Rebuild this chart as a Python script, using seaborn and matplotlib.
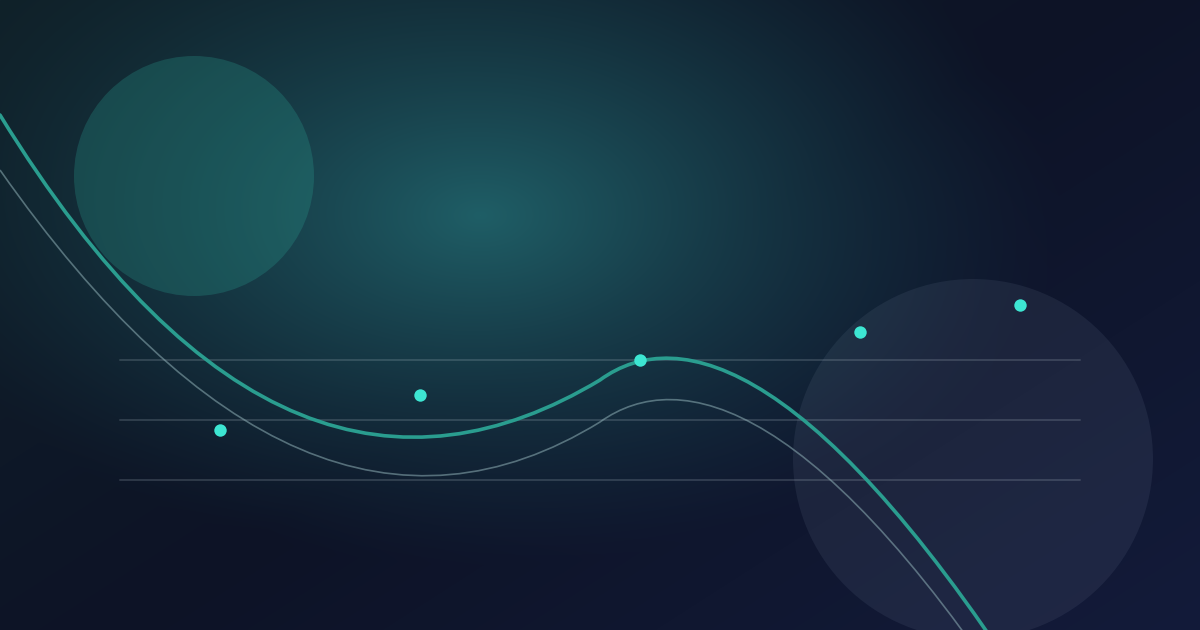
import numpy as np
import pandas as pd
import matplotlib
matplotlib.use("Agg")
import matplotlib.pyplot as plt
from matplotlib.path import Path
from matplotlib.patches import PathPatch, Circle
import seaborn as sns

# ---- data (canvas coordinates, y grows downward) ----
dot_x = [220, 420, 640, 860, 1020]
dot_y = [430, 395, 360, 332, 305]

grid_y = [360, 420, 480]
grid_x0 = 120
grid_x1 = 1080

# main trend curve: cubic bezier control points
main_x = [0, 200, 400, 600, 680, 820, 1045]
main_y = [115, 440, 500, 380, 322, 362, 720]

# secondary (grey) curve
sec_x = [0, 200, 400, 600, 680, 820, 1040]
sec_y = [170, 455, 545, 422, 365, 398, 745]

circle_a = (194, 176, 120)
circle_b = (973, 459, 180)

W, H = 1200, 630

sns.set_theme(style="white")
fig = plt.figure(figsize=(12, 6.3), dpi=100)
ax = fig.add_axes([0, 0, 1, 1])
ax.set_xlim(0, W)
ax.set_ylim(H, 0)
ax.axis("off")

# ---- background gradient ----
yy, xx = np.mgrid[0:H, 0:W].astype(float)
tl = np.array([16, 34, 42]) / 255
br = np.array([19, 27, 58]) / 255
mid = np.array([13, 19, 38]) / 255
s = (xx / W * 0.55 + yy / H * 0.45)
base = np.empty((H, W, 3))
for c in range(3):
    t = s
    base[..., c] = np.where(t < 0.5, tl[c] + (mid[c] - tl[c]) * (t / 0.5),
                            mid[c] + (br[c] - mid[c]) * ((t - 0.5) / 0.5))
glow = np.array([31, 94, 102]) / 255
d = np.sqrt(((xx - 480) / 580) ** 2 + ((yy - 215) / 350) ** 2)
a = np.clip(1 - d, 0, 1) ** 1.25
img = base * (1 - a[..., None]) + glow * a[..., None]
ax.imshow(img, extent=(0, W, H, 0), zorder=0, aspect="auto")

# ---- circles ----
ax.add_patch(Circle(circle_a[:2], circle_a[2], color="#2a9d8f", alpha=0.28, lw=0, zorder=1))
ax.add_patch(Circle(circle_b[:2], circle_b[2], color="#b8cbe8", alpha=0.08, lw=0, zorder=1))

# ---- grid lines ----
grid_df = pd.DataFrame({
    "x": [grid_x0, grid_x1] * len(grid_y),
    "y": [g for g in grid_y for _ in range(2)],
    "g": [i for i in range(len(grid_y)) for _ in range(2)],
})
sns.lineplot(data=grid_df, x="x", y="y", units="g", estimator=None,
             color="#d8e6ee", alpha=0.16, lw=1.4, ax=ax, zorder=2)

# ---- curves ----
def bez(xs, ys):
    verts = list(zip(xs, ys))
    codes = [Path.MOVETO] + [Path.CURVE4] * (len(verts) - 1)
    return Path(verts, codes)

ax.add_patch(PathPatch(bez(sec_x, sec_y), fc="none", ec="#8fb0b6", alpha=0.55, lw=1.2, zorder=3))
ax.add_patch(PathPatch(bez(main_x, main_y), fc="none", ec="#2a9d8f", lw=2.6, zorder=4,
                       capstyle="round"))

# ---- dots ----
dots = pd.DataFrame({"x": dot_x, "y": dot_y})
sns.scatterplot(data=dots, x="x", y="y", color="#3de6d2", s=80, linewidth=0, ax=ax, zorder=5)

ax.set_xlim(0, W)
ax.set_ylim(H, 0)
ax.set_xlabel("")
ax.set_ylabel("")
fig.savefig("out.png", dpi=100)
